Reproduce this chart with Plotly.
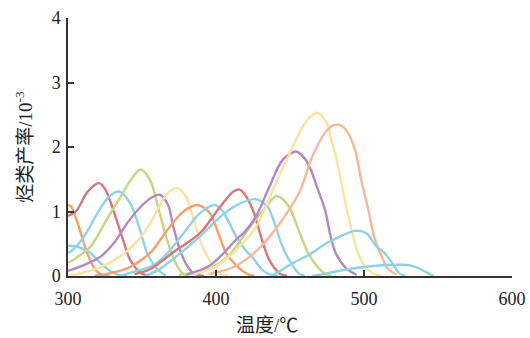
import plotly.graph_objects as go

# Hydrocarbon yield (10^-3) versus temperature (°C), one curve per sample
red_a_t = [300, 306, 313, 321, 325, 329, 336.5, 342, 349, 355]
red_a_v = [0.93, 1.02, 1.30, 1.44, 1.35, 1.13, 0.61, 0.25, 0.05, 0.0]

orange_a_t = [300, 302, 307.4, 313, 318.7, 324, 328]
orange_a_v = [1.10, 1.08, 0.76, 0.35, 0.09, 0.01, 0.0]

blue_a_t = [300, 307, 315, 322, 329, 335, 340]
blue_a_v = [0.47, 0.45, 0.36, 0.20, 0.07, 0.01, 0.0]

blue_b_t = [300, 302, 310.8, 319.8, 327.7, 334.5, 342, 348, 353.6, 361, 366]
blue_b_v = [0.36, 0.38, 0.61, 0.97, 1.23, 1.31, 1.13, 0.76, 0.35, 0.09, 0.01]

green_a_t = [300, 315, 326, 335.6, 342.4, 349, 355.4, 362, 367.6, 373.4, 377, 382]
green_a_v = [0.20, 0.45, 0.87, 1.23, 1.49, 1.65, 1.49, 0.97, 0.51, 0.17, 0.05, 0.0]

purple_a_t = [300, 310.8, 322, 331, 340, 349, 356, 362, 367.6, 371, 375.7, 381, 385, 392]
purple_a_v = [0.08, 0.17, 0.30, 0.51, 0.82, 1.07, 1.21, 1.26, 1.10, 0.78, 0.40, 0.14, 0.04, 0.0]

yellow_a_t = [300, 310, 320, 338, 351, 358, 364, 369, 374, 380, 385, 391, 397, 403, 408]
yellow_a_v = [0.0, 0.05, 0.12, 0.35, 0.66, 0.92, 1.18, 1.32, 1.36, 1.22, 0.87, 0.45, 0.20, 0.04, 0.0]

orange_b_t = [318, 330, 342, 356, 367, 378, 388, 396, 401.6, 407, 413.5, 422, 426]
orange_b_v = [0.0, 0.05, 0.14, 0.37, 0.71, 1.00, 1.10, 0.97, 0.66, 0.35, 0.17, 0.02, 0.0]

blue_c_t = [335, 342, 350, 358, 367, 378, 389, 399, 404, 409.5, 413.5, 420, 425, 431, 437, 442]
blue_c_v = [0.0, 0.05, 0.10, 0.17, 0.35, 0.66, 0.97, 1.10, 1.02, 0.80, 0.61, 0.40, 0.28, 0.10, 0.02, 0.0]

red_b_t = [345, 355, 373, 389, 402.7, 411.7, 416, 419, 425, 430.4, 436, 443, 448]
red_b_v = [0.03, 0.10, 0.40, 0.66, 1.07, 1.31, 1.34, 1.28, 1.02, 0.61, 0.25, 0.04, 0.0]

blue_d_t = [352, 360, 373, 389, 403, 414, 427, 435, 439.5, 445, 450.7, 456, 460]
blue_d_v = [0.0, 0.08, 0.30, 0.61, 0.92, 1.10, 1.19, 1.07, 0.82, 0.45, 0.20, 0.04, 0.0]

green_b_t = [375, 385, 398, 410, 420.7, 431.8, 441, 449.5, 455, 461, 466, 472, 478]
green_b_v = [0.02, 0.05, 0.14, 0.35, 0.69, 1.02, 1.24, 1.07, 0.76, 0.42, 0.22, 0.06, 0.0]

purple_b_t = [380, 395, 405, 413, 420, 427, 436, 445, 454, 460, 464, 469, 474, 477, 481, 488, 495]
purple_b_v = [0.02, 0.15, 0.35, 0.55, 0.70, 0.92, 1.38, 1.80, 1.93, 1.82, 1.65, 1.33, 1.00, 0.66, 0.35, 0.12, 0.02]

yellow_b_t = [385, 400, 413.5, 427, 440.5, 451.8, 456.8, 463, 469, 474.8, 478, 482.6, 487, 491.7, 496, 501.8, 508, 512]
yellow_b_v = [0.02, 0.15, 0.40, 0.76, 1.44, 2.00, 2.24, 2.45, 2.53, 2.37, 2.11, 1.69, 1.18, 0.71, 0.35, 0.12, 0.02, 0.0]

salmon_t = [395, 410, 420, 430, 440, 450, 457, 465, 475, 482, 488, 494, 498, 503, 507, 512, 516, 522]
salmon_v = [0.03, 0.12, 0.25, 0.45, 0.72, 1.05, 1.33, 1.85, 2.26, 2.35, 2.26, 1.95, 1.50, 1.02, 0.60, 0.30, 0.12, 0.02]

blue_e_t = [437, 440.5, 451.8, 463, 474, 479, 494, 501.8, 508.6, 512, 517.6, 524, 528]
blue_e_v = [0.0, 0.04, 0.20, 0.33, 0.50, 0.56, 0.70, 0.66, 0.45, 0.40, 0.25, 0.04, 0.0]

blue_f_t = [465, 475, 485, 500, 515, 530, 537, 542, 547]
blue_f_v = [0.0, 0.04, 0.09, 0.14, 0.17, 0.17, 0.12, 0.06, 0.0]

x_ticks = [300, 400, 500, 600]
y_ticks = [0, 1, 2, 3, 4]

RED = "#d8767e"
ORANGE = "#f5a06e"
SALMON = "#f8b797"
GREEN = "#c3d781"
BLUE = "#8fd2e6"
PURPLE = "#b487c4"
YELLOW = "#fce2a0"

series = [
    (orange_a_t, orange_a_v, ORANGE),
    (blue_a_t, blue_a_v, BLUE),
    (red_a_t, red_a_v, RED),
    (blue_b_t, blue_b_v, BLUE),
    (green_a_t, green_a_v, GREEN),
    (purple_a_t, purple_a_v, PURPLE),
    (yellow_a_t, yellow_a_v, YELLOW),
    (orange_b_t, orange_b_v, ORANGE),
    (blue_c_t, blue_c_v, BLUE),
    (red_b_t, red_b_v, RED),
    (blue_d_t, blue_d_v, BLUE),
    (green_b_t, green_b_v, GREEN),
    (purple_b_t, purple_b_v, PURPLE),
    (yellow_b_t, yellow_b_v, YELLOW),
    (salmon_t, salmon_v, SALMON),
    (blue_e_t, blue_e_v, BLUE),
    (blue_f_t, blue_f_v, BLUE),
]

fig = go.Figure()
for t, v, c in series:
    fig.add_trace(go.Scatter(
        x=t, y=v, mode="lines",
        line=dict(color=c, width=2.4, shape="spline", smoothing=0.85),
        showlegend=False, hoverinfo="skip",
    ))

serif = "Liberation Serif, Times New Roman, serif"
tick_font = dict(family=serif, size=18, color="#222222")
title_font = dict(family="Liberation Serif, Noto Sans CJK SC, serif", size=19, color="#222222")
axis_common = dict(
    showgrid=False, zeroline=False, automargin=False,
    showline=True, linecolor="#333333", linewidth=1.5,
    ticks="inside", ticklen=6, tickwidth=1.5, tickcolor="#333333",
    tickfont=tick_font, mirror=False,
)

fig.update_layout(
    width=530, height=338,
    margin=dict(l=68, r=18, t=18, b=62),
    paper_bgcolor="white", plot_bgcolor="white",
    font=dict(family=serif),
    xaxis=dict(range=[300, 600], tickvals=x_ticks, ticklabelstandoff=6, **axis_common),
    yaxis=dict(range=[0, 4], tickvals=y_ticks, ticklabelstandoff=2, **axis_common,
               title=dict(text="烃类产率/10<sup>-3</sup>", font=title_font, standoff=14)),
    annotations=[dict(
        text="温度/℃", xref="paper", yref="paper", x=0.448, y=-0.19,
        xanchor="center", yanchor="middle", showarrow=False, font=title_font,
    )],
)

fig.write_html("out.html")
